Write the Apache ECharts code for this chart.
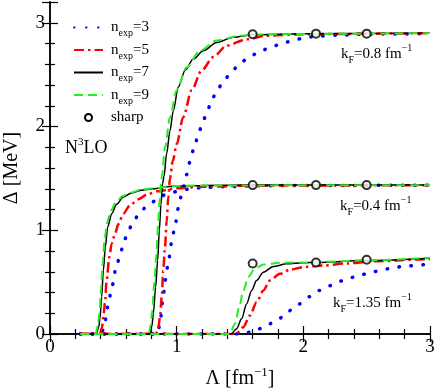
<!DOCTYPE html>
<html>
<head>
<meta charset="utf-8">
<script src="https://cdn.jsdelivr.net/npm/echarts@6.0.0/dist/echarts.min.js"></script>
<style>
  html, body { margin: 0; padding: 0; background: #fff; }
  #chart { width: 436px; height: 389px; }
</style>
</head>
<body>
<div id="chart"></div>
<script>
// Lambda [fm^-1], Delta [MeV], one list per curve
const kf04_n3 = [[0.24,0],[0.40,0],[0.42,0.04],[0.434,0.11],[0.447,0.226],[0.468,0.34],[0.487,0.45],[0.526,0.66],[0.553,0.756],[0.579,0.87],[0.61,0.97],[0.652,1.067],[0.705,1.164],[0.771,1.24],[0.847,1.295],[0.92,1.35],[1.026,1.38],[1.105,1.40],[1.2,1.41],[1.37,1.42],[1.7,1.43],[3,1.435]]
const kf04_n5 = [[0.24,0],[0.395,0],[0.41,0.06],[0.422,0.17],[0.434,0.3],[0.447,0.52],[0.468,0.74],[0.487,0.87],[0.513,0.965],[0.54,1.06],[0.579,1.16],[0.631,1.24],[0.697,1.30],[0.776,1.35],[0.85,1.375],[1.0,1.405],[1.2,1.42],[1.6,1.43],[3,1.435]]
const kf04_n7 = [[0.24,0],[0.367,0],[0.385,0.07],[0.395,0.15],[0.408,0.36],[0.421,0.61],[0.437,0.84],[0.455,1.03],[0.487,1.16],[0.526,1.25],[0.579,1.32],[0.645,1.36],[0.723,1.385],[0.81,1.40],[0.97,1.425],[1.2,1.432],[1.6,1.435],[3,1.435]]
const kf04_n9 = [[0.24,0],[0.36,0],[0.378,0.08],[0.39,0.2],[0.402,0.42],[0.415,0.67],[0.43,0.9],[0.45,1.07],[0.48,1.19],[0.52,1.27],[0.575,1.33],[0.64,1.365],[0.72,1.39],[0.81,1.405],[0.97,1.425],[1.2,1.432],[3,1.435]]

const kf08_n3 = [[0.24,0],[0.85,0],[0.87,0.12],[0.89,0.32],[0.91,0.52],[0.935,0.7],[0.96,0.88],[0.987,1.05],[1.015,1.22],[1.045,1.38],[1.079,1.537],[1.105,1.66],[1.14,1.81],[1.179,1.96],[1.21,2.06],[1.245,2.16],[1.276,2.255],[1.323,2.36],[1.376,2.45],[1.434,2.53],[1.5,2.61],[1.573,2.67],[1.652,2.72],[1.736,2.76],[1.83,2.80],[1.92,2.83],[2.01,2.855],[2.1,2.87],[2.26,2.88],[2.5,2.89],[3,2.895]]
const kf08_n5 = [[0.24,0],[0.835,0],[0.855,0.06],[0.868,0.16],[0.882,0.355],[0.894,0.61],[0.908,0.84],[0.921,1.09],[0.934,1.32],[0.947,1.5],[0.97,1.67],[1.0,1.83],[1.052,2.09],[1.118,2.35],[1.197,2.54],[1.289,2.67],[1.395,2.78],[1.552,2.84],[1.71,2.875],[2.0,2.89],[3,2.9]]
const kf08_n7 = [[0.24,0],[0.79,0],[0.805,0.08],[0.816,0.2],[0.834,0.45],[0.85,0.71],[0.863,1.0],[0.876,1.25],[0.889,1.45],[0.9,1.52],[0.921,1.74],[0.947,1.96],[0.973,2.15],[1.013,2.38],[1.066,2.54],[1.131,2.65],[1.21,2.73],[1.316,2.81],[1.447,2.86],[1.6,2.885],[2.0,2.895],[3,2.9]]
const kf08_n9 = [[0.24,0],[0.78,0],[0.795,0.09],[0.807,0.23],[0.824,0.5],[0.84,0.77],[0.853,1.05],[0.866,1.3],[0.882,1.51],[0.908,1.80],[0.947,2.09],[1.0,2.35],[1.079,2.57],[1.184,2.73],[1.316,2.83],[1.5,2.875],[1.7,2.89],[3,2.9]]

const kf135_n3 = [[0.24,0],[1.5,0],[1.592,0.02],[1.684,0.06],[1.776,0.12],[1.855,0.178],[1.907,0.235],[1.968,0.29],[2.05,0.36],[2.126,0.42],[2.205,0.465],[2.289,0.51],[2.381,0.545],[2.473,0.575],[2.552,0.60],[2.644,0.625],[2.723,0.643],[2.815,0.655],[2.907,0.665],[3,0.675]]
const kf135_n5 = [[0.24,0],[1.47,0],[1.526,0.066],[1.579,0.178],[1.631,0.306],[1.684,0.42],[1.736,0.515],[1.815,0.58],[1.894,0.62],[2.0,0.645],[2.157,0.66],[2.342,0.68],[2.55,0.70],[2.9,0.718],[3,0.722]]
const kf135_n7 = [[0.24,0],[1.43,0],[1.473,0.05],[1.513,0.146],[1.552,0.29],[1.592,0.42],[1.631,0.515],[1.684,0.595],[1.763,0.65],[1.868,0.676],[2.0,0.686],[2.1,0.69],[2.5,0.708],[3,0.73]]
const kf135_n9 = [[0.24,0],[1.42,0],[1.46,0.1],[1.494,0.26],[1.526,0.42],[1.565,0.55],[1.618,0.63],[1.684,0.67],[1.815,0.686],[2.03,0.69],[2.5,0.71],[3,0.735]]

// sharp cutoff results
const sharpPoints = [[1.6,1.435],[2.1,1.435],[2.5,1.435],[1.6,2.89],[2.1,2.895],[2.5,2.895],[1.6,0.68],[2.1,0.69],[2.5,0.715]]

const xTicks = [0, 1, 2, 3]
const yTicks = [0, 1, 2, 3]

// text notes: [x, y, text]
const notes = [
  [2.297, 2.70, '{n|k}{sub|F}{n|=0.8 fm}{sup|−1}'],
  [2.29, 1.23, '{n|k}{sub|F}{n|=0.4 fm}{sup|−1}'],
  [2.234, 0.30, '{n|k}{sub|F}{n|=1.35 fm}{sup|−1}'],
  [0.118, 1.79, '{b|N}{bsup|3}{b|LO}']
]

const serif = 'Liberation Serif'
const richText = {
  n: { fontFamily: serif, fontSize: 15, lineHeight: 22, color: '#000' },
  sub: { fontFamily: serif, fontSize: 10, lineHeight: 10, verticalAlign: 'bottom', color: '#000' },
  sup: { fontFamily: serif, fontSize: 10, lineHeight: 10, verticalAlign: 'top', color: '#000' },
  b: { fontFamily: serif, fontSize: 18, lineHeight: 24, color: '#000' },
  bsup: { fontFamily: serif, fontSize: 11, lineHeight: 11, verticalAlign: 'top', color: '#000' }
}

const styles = {
  n3: { color: '#0000ff', width: 3.5, type: [0.5, 11.5], cap: 'round' },
  n5: { color: '#ff0000', width: 2.5, type: [10, 4, 2.5, 4] },
  n7: { color: '#000000', width: 1.5, type: 'solid' },
  n9: { color: '#22ee22', width: 2, type: [9, 5] }
}
const labels = { n3: '3', n5: '5', n7: '7', n9: '9' }

const curves = [
  ['n3', kf04_n3], ['n3', kf08_n3], ['n3', kf135_n3],
  ['n5', kf04_n5], ['n5', kf08_n5], ['n5', kf135_n5],
  ['n7', kf04_n7], ['n7', kf08_n7], ['n7', kf135_n7],
  ['n9', kf04_n9], ['n9', kf08_n9], ['n9', kf135_n9]
]

const myChart = echarts.init(document.getElementById('chart'))

const tickAxis = (extra) => Object.assign({
  type: 'value',
  interval: 1,
  axisLine: { show: true, lineStyle: { color: '#000', width: 1.5 } },
  axisTick: { show: true, inside: true, length: 8, lineStyle: { color: '#000', width: 1.2 } },
  minorTick: { show: true, splitNumber: 5, length: 5, lineStyle: { color: '#000', width: 1.2 } },
  splitLine: { show: false },
  axisLabel: { show: false }
}, extra)

const series = curves.map(([key, data]) => ({
  name: key,
  type: 'line',
  data: data,
  symbol: 'none',
  smooth: 0.3,
  smoothMonotone: 'x',
  lineStyle: styles[key],
  itemStyle: { color: styles[key].color },
  animation: false
}))
series.push({
  name: 'sharp',
  type: 'scatter',
  data: sharpPoints,
  symbol: 'emptyCircle',
  symbolSize: 8,
  itemStyle: { color: '#000', borderColor: '#000', borderWidth: 1.3 },
  z: 5,
  animation: false
})

myChart.setOption({
  animation: false,
  grid: { left: 50, right: 6, top: 2, bottom: 55, outerBoundsMode: 'none', containLabel: false },
  legend: {
    orient: 'vertical',
    left: 68,
    top: 15,
    itemWidth: 29,
    itemHeight: 7,
    itemGap: 4,
    itemStyle: { opacity: 0 },
    data: [
      { name: 'n3' }, { name: 'n5' }, { name: 'n7' }, { name: 'n9' },
      { name: 'sharp', icon: 'emptyCircle', itemStyle: { opacity: 1, color: '#000', borderColor: '#000', borderWidth: 1.3 } }
    ],
    formatter: (name) => name === 'sharp'
      ? '{n|sharp}'
      : '{n|n}{sub|exp}{n|=' + labels[name] + '}',
    textStyle: { rich: richText, padding: [0, 0, 0, 3] },
    selectedMode: false
  },
  xAxis: [
    tickAxis({
      min: 0, max: 3,
      name: '{a|Λ [fm}{s|−1}{a|]}',
      nameLocation: 'middle',
      nameGap: 32,
      nameTextStyle: { rich: {
        a: { fontFamily: serif, fontSize: 20, lineHeight: 26, color: '#000' },
        s: { fontFamily: serif, fontSize: 13, lineHeight: 13, verticalAlign: 'top', color: '#000' }
      } },
      axisLabel: {
        show: true, margin: 4, color: '#000', fontFamily: serif, fontSize: 19,
        formatter: (v) => xTicks.includes(v) ? String(v) : ''
      }
    }),
    tickAxis({ min: 0, max: 3, position: 'top' })
  ],
  yAxis: [
    tickAxis({
      min: 0, max: 3.2,
      name: 'Δ [MeV]',
      nameLocation: 'middle',
      nameGap: 28,
      nameTextStyle: { fontFamily: serif, fontSize: 20, color: '#000' },
      axisLabel: {
        show: true, margin: 5, color: '#000', fontFamily: serif, fontSize: 19,
        formatter: (v) => yTicks.includes(v) ? String(v) : ''
      }
    }),
    tickAxis({ min: 0, max: 3.2, position: 'right' })
  ],
  series: series
})

// put the text notes at their data positions
myChart.setOption({
  graphic: notes.map(([x, y, text]) => {
    const p = myChart.convertToPixel({ xAxisIndex: 0, yAxisIndex: 0 }, [x, y])
    return {
      type: 'text',
      x: p[0],
      y: p[1],
      style: { text: text, rich: richText, verticalAlign: 'middle', align: 'left' },
      z: 10
    }
  })
})
</script>
</body>
</html>
